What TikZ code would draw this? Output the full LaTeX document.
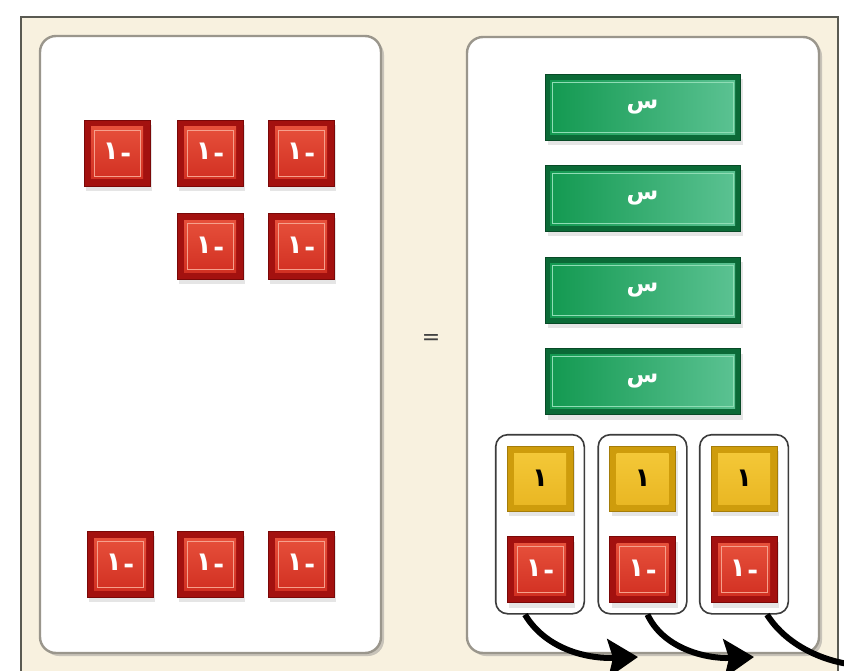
\documentclass[tikz,border=0pt]{standalone}
\usepackage{fontspec}
\usetikzlibrary{shadows,fit,calc,arrows.meta}
\newfontfamily\arabicfont[Script=Arabic]{DejaVu Sans}
\newfontfamily\symfont{DejaVu Sans}
\TeXXeTstate=1
\newcommand{\negone}{١\kern1.5pt\raisebox{-3pt}{-}}
\definecolor{frameBg}{HTML}{F8F1DF}
\definecolor{frameLine}{HTML}{5A5A52}
\definecolor{panelLine}{HTML}{9A968C}
\definecolor{redOut}{HTML}{A3110F}
\definecolor{redDark}{HTML}{7A0808}
\definecolor{redIn1}{HTML}{E9543E}
\definecolor{redIn2}{HTML}{CF2C1F}
\definecolor{redLine}{HTML}{F6A08C}
\definecolor{greenOut}{HTML}{0B6A37}
\definecolor{greenIn1}{HTML}{11984F}
\definecolor{greenIn2}{HTML}{5DC394}
\definecolor{greenLine}{HTML}{8FDDB5}
\definecolor{yelOut}{HTML}{CE9C0C}
\definecolor{yelIn1}{HTML}{F5CA3A}
\definecolor{yelIn2}{HTML}{E8B521}
\definecolor{grpLine}{HTML}{3C3C3C}
\tikzset{
  panel/.style={draw=panelLine, line width=2.4pt, fill=white, rounded corners=16pt,
    drop shadow={shadow xshift=3pt, shadow yshift=-3pt, opacity=0.4}},
  redtile/.style={minimum width=66pt, minimum height=66pt, inner sep=0pt,
    fill=redOut, draw=redDark, line width=0.6pt,
    drop shadow={shadow xshift=2pt, shadow yshift=-5pt, opacity=0.2},
    path picture={
      \fill[top color=redIn1, bottom color=redIn2]
        ($(path picture bounding box.south west)+(7pt,7pt)$) rectangle
        ($(path picture bounding box.north east)+(-7pt,-7pt)$);
      \draw[redLine, line width=0.7pt]
        ($(path picture bounding box.south west)+(10pt,10pt)$) rectangle
        ($(path picture bounding box.north east)+(-10pt,-10pt)$);},
    text=white, font=\arabicfont\bfseries\fontsize{26}{26}\selectfont},
  yeltile/.style={minimum width=66pt, minimum height=65pt, inner sep=0pt,
    fill=yelOut, draw=yelOut!80!black, line width=0.6pt,
    drop shadow={shadow xshift=2pt, shadow yshift=-5pt, opacity=0.2},
    path picture={
      \fill[top color=yelIn1, bottom color=yelIn2]
        ($(path picture bounding box.south west)+(7pt,7pt)$) rectangle
        ($(path picture bounding box.north east)+(-7pt,-7pt)$);},
    text=black, font=\arabicfont\bfseries\fontsize{26}{26}\selectfont},
  greenbar/.style={minimum width=195pt, minimum height=66pt, inner sep=0pt,
    fill=greenOut, draw=greenOut!70!black, line width=0.6pt,
    drop shadow={shadow xshift=3pt, shadow yshift=-5pt, opacity=0.2},
    path picture={
      \fill[left color=greenIn1, right color=greenIn2]
        ($(path picture bounding box.south west)+(5pt,6pt)$) rectangle
        ($(path picture bounding box.north east)+(-5pt,-6pt)$);
      \draw[greenLine, line width=0.7pt]
        ($(path picture bounding box.south west)+(7pt,8pt)$) rectangle
        ($(path picture bounding box.north east)+(-7pt,-8pt)$);},
    text=white, font=\arabicfont\bfseries\fontsize{23}{23}\selectfont},
  grp/.style={draw=grpLine, line width=1.6pt, rounded corners=12pt,
    inner xsep=11pt, inner ysep=11pt},
  arr/.style={line width=6pt, black, -{Stealth[length=30pt, width=38pt, inset=5pt]}},
}
\begin{document}
\begin{tikzpicture}[x=1pt,y=-1pt]
\useasboundingbox (0,0) rectangle (844,671);
\clip (0,0) rectangle (844,671);
\fill[white] (0,0) rectangle (844,671);
\draw[fill=frameBg, draw=frameLine, line width=1.5pt] (21,17) rectangle (838,700);

\node[panel, minimum width=341pt, minimum height=617pt] (lp) at (210.5,344.5) {};
\node[panel, minimum width=352pt, minimum height=616pt] (rp) at (643,345) {};

% left panel tiles
\node[redtile] (l1) at (117,153) {\negone};
\node[redtile] (l2) at (210,153) {\negone};
\node[redtile] (l3) at (301,153) {\negone};
\node[redtile] (l4) at (210,246.5) {\negone};
\node[redtile] (l5) at (301,246.5) {\negone};
\node[redtile] (l6) at (120,564) {\negone};
\node[redtile] (l7) at (210,564) {\negone};
\node[redtile] (l8) at (301,564) {\negone};

\node[text=black!75, font=\symfont\fontsize{22}{22}\selectfont] (eq) at (431,340) {=};

% right panel
\node[greenbar] (x1) at (642.5,107.5) {\beginR س\endR};
\node[greenbar] (x2) at (642.5,198.5) {\beginR س\endR};
\node[greenbar] (x3) at (642.5,290.5) {\beginR س\endR};
\node[greenbar] (x4) at (642.5,381.5) {\beginR س\endR};

\node[yeltile] (y1) at (540,478.5) {١};
\node[yeltile] (y2) at (642.5,478.5) {١};
\node[yeltile] (y3) at (744,478.5) {١};
\node[redtile] (r1) at (540,569.5) {\negone};
\node[redtile] (r2) at (642.5,569.5) {\negone};
\node[redtile] (r3) at (744,569.5) {\negone};

\node[grp, fit=(y1)(r1)] (g1) {};
\node[grp, fit=(y2)(r2)] (g2) {};
\node[grp, fit=(y3)(r3)] (g3) {};

\coordinate (e1) at (638,657);
\coordinate (e2) at (754,657);
\coordinate (e3) at (884,666);

\draw[arr] ([xshift=-15pt]g1.south) .. controls (545,648) and (585,659) .. (e1);
\draw[arr] ([xshift=5pt]g2.south) .. controls (663,648) and (705,659) .. (e2);
\draw[arr] ([xshift=23pt]g3.south) .. controls (788,648) and (830,664) .. (e3);
\end{tikzpicture}
\end{document}
